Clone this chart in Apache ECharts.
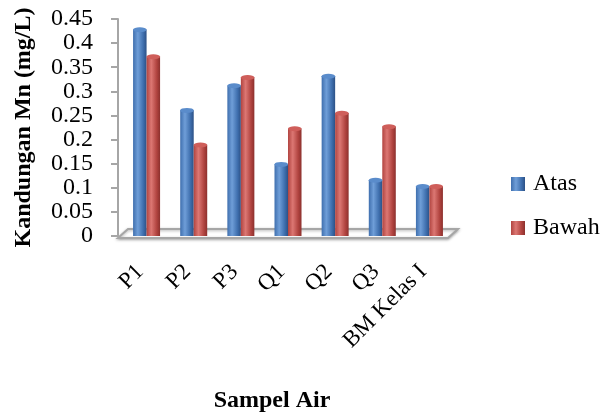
<!DOCTYPE html>
<html>
<head>
<meta charset="UTF-8">
<title>Kandungan Mn</title>
<script src="https://cdn.jsdelivr.net/npm/echarts@6.0.0/dist/echarts.min.js"></script>
<style>
  html, body { margin: 0; padding: 0; background: #fff; }
  #lienzo { width: 605px; height: 412px; }
</style>
</head>
<body>
<div id="lienzo"></div>
<script>
// datos
const kategori = ['P1', 'P2', 'P3', 'Q1', 'Q2', 'Q3', 'BM Kelas I'];
const atas = [0.428, 0.261, 0.312, 0.149, 0.332, 0.116, 0.103];
const bawah = [0.372, 0.189, 0.329, 0.223, 0.255, 0.227, 0.103];
const ticksY = [0, 0.05, 0.1, 0.15, 0.2, 0.25, 0.3, 0.35, 0.4, 0.45];

const fuente = '"Liberation Serif", "DejaVu Serif", serif';

function cilindro(oscuro, claro, borde) {
  return new echarts.graphic.LinearGradient(0, 0, 1, 0, [
    { offset: 0, color: oscuro },
    { offset: 0.35, color: claro },
    { offset: 0.75, color: oscuro },
    { offset: 1, color: borde }
  ]);
}

let myChart = echarts.init(document.getElementById('lienzo'));

myChart.setOption({
  animation: false,
  textStyle: { fontFamily: fuente },
  grid: { left: 123, right: 152, top: 19, bottom: 176, containLabel: false, outerBoundsMode: 'none' },
  legend: {
    data: ['Atas', 'Bawah'],
    orient: 'vertical',
    left: 506,
    top: 167,
    icon: 'rect',
    itemWidth: 14,
    itemHeight: 14,
    itemGap: 20,
    textStyle: { fontSize: 24, color: '#000', fontFamily: fuente, padding: [0, 0, 0, 3] }
  },
  xAxis: {
    type: 'category',
    data: kategori,
    name: 'Sampel Air',
    nameLocation: 'middle',
    nameGap: 153,
    nameTextStyle: { fontSize: 24, fontWeight: 'bold', color: '#000', padding: [0, 32, 0, 0] },
    axisLine: { show: false },
    axisTick: { show: false },
    axisLabel: { rotate: 45, interval: 0, fontSize: 23, color: '#000', margin: 26, padding: [0, 9, 0, 0] }
  },
  yAxis: {
    type: 'value',
    min: 0,
    max: 0.45,
    interval: 0.05,
    offset: 5,
    name: 'Kandungan Mn (mg/L)',
    nameLocation: 'middle',
    nameGap: 82,
    nameTextStyle: { fontSize: 24, fontWeight: 'bold', color: '#000' },
    axisLine: { show: true, lineStyle: { color: '#a6a6a6', width: 2 } },
    axisTick: { show: true, length: 7, lineStyle: { color: '#a6a6a6', width: 2 } },
    splitLine: { show: false },
    axisLabel: {
      fontSize: 24, color: '#000', margin: 25,
      showMinLabel: true, showMaxLabel: true,
      formatter: v => String(parseFloat(v.toFixed(2)))
    }
  },
  graphic: [{
    type: 'polygon',
    z: 0,
    shape: { points: [[118, 238], [448, 238], [458, 229], [128, 229]] },
    style: { fill: '#fff', stroke: '#a6a6a6', lineWidth: 2, shadowBlur: 3, shadowColor: 'rgba(0,0,0,0.3)', shadowOffsetY: 1 }
  }],
  series: [
    {
      name: 'Atas',
      type: 'bar',
      data: atas,
      barWidth: 13.5,
      barGap: '0%',
      z: 2,
      color: '#4a7ebb',
      itemStyle: { color: cilindro('#3f6fae', '#6f9ed8', '#2c5186') }
    },
    {
      name: 'Bawah',
      type: 'bar',
      data: bawah,
      barWidth: 13.5,
      barGap: '0%',
      z: 2,
      color: '#be4b48',
      itemStyle: { color: cilindro('#b14440', '#dc7773', '#8c302d') }
    },
    {
      name: 'AtasTop',
      type: 'pictorialBar',
      data: atas,
      symbol: 'circle',
      symbolSize: [13.5, 5],
      symbolPosition: 'end',
      symbolOffset: [-6.75, '-50%'],
      z: 3,
      itemStyle: { color: '#5a8ccb', borderColor: '#2f5a92', borderWidth: 0.8 }
    },
    {
      name: 'BawahTop',
      type: 'pictorialBar',
      data: bawah,
      symbol: 'circle',
      symbolSize: [13.5, 5],
      symbolPosition: 'end',
      symbolOffset: [6.75, '-50%'],
      z: 3,
      itemStyle: { color: '#cf5e5a', borderColor: '#92322f', borderWidth: 0.8 }
    }
  ]
});
</script>
</body>
</html>
